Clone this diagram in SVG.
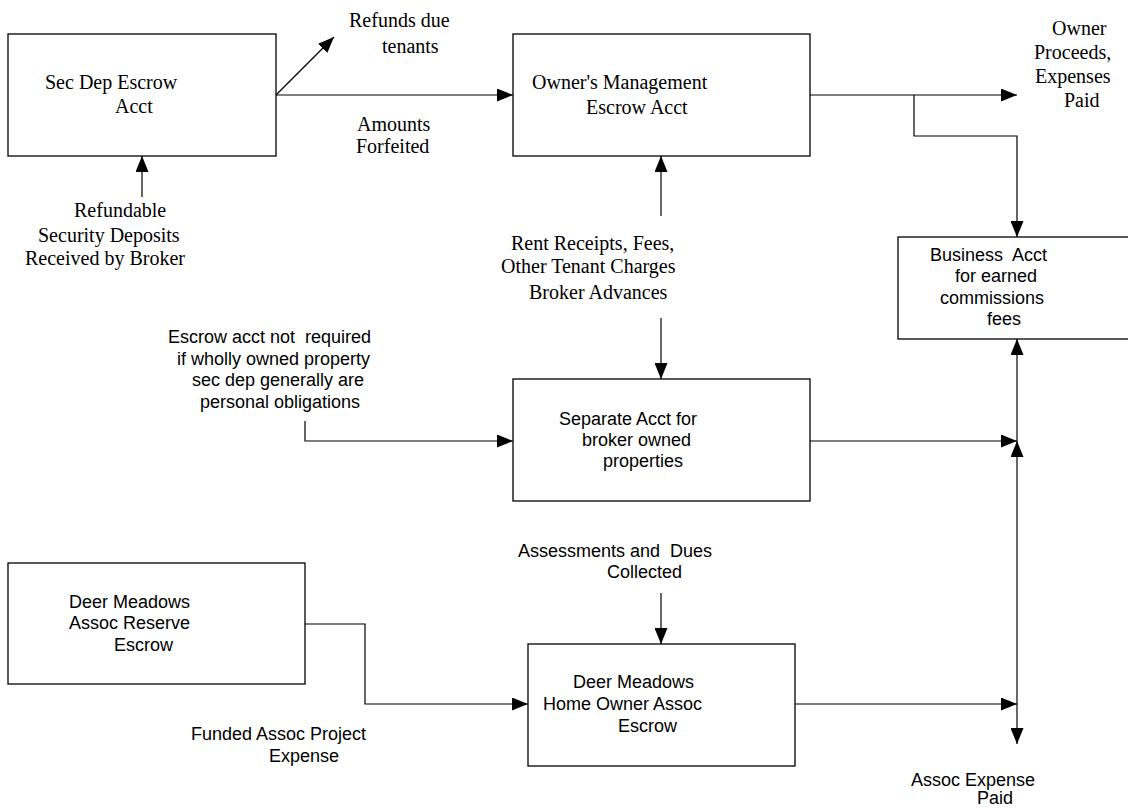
<svg xmlns="http://www.w3.org/2000/svg" width="1128" height="808" viewBox="0 0 1128 808">
<defs>
<marker id="ah" markerUnits="userSpaceOnUse" markerWidth="16" markerHeight="13" refX="16" refY="6.5" orient="auto">
<path d="M0,0 L16,6.5 L0,13 z" fill="#000"/>
</marker>
<style>
.box{fill:#fff;stroke:#000;stroke-width:1.3}
.ln{fill:none;stroke:#000;stroke-width:1.2}
.arr{fill:none;stroke:#000;stroke-width:1.2;marker-end:url(#ah)}
.tr{font-family:"Liberation Serif","Times New Roman",serif;font-size:20px;fill:#000;white-space:pre}
.ar{font-family:"Liberation Sans",Arial,sans-serif;font-size:18px;fill:#000;white-space:pre}
</style>
</defs>
<rect width="1128" height="808" fill="#fff"/>
<g id="connectors">
<line class="arr" x1="276" y1="95" x2="334" y2="37"/>
<line class="arr" x1="276" y1="95" x2="513" y2="95"/>
<line class="arr" x1="142" y1="197" x2="142" y2="156"/>
<line class="arr" x1="661" y1="216" x2="661" y2="156"/>
<line class="arr" x1="661" y1="318" x2="661" y2="379"/>
<line class="arr" x1="810" y1="95" x2="1017" y2="95"/>
<polyline class="arr" points="914,95 914,136 1017,136 1017,237"/>
<polyline class="arr" points="305,421 305,441 513,441"/>
<line class="arr" x1="810" y1="441" x2="1017" y2="441"/>
<line class="arr" x1="1017" y1="441" x2="1017" y2="339"/>
<line class="arr" x1="1017" y1="704" x2="1017" y2="441"/>
<line class="arr" x1="1017" y1="704" x2="1017" y2="744"/>
<line class="arr" x1="795" y1="704" x2="1017" y2="704"/>
<line class="arr" x1="661" y1="593" x2="661" y2="644"/>
<polyline class="arr" points="305,624 365,624 365,704 528,704"/>
</g>
<g id="sec-dep-escrow">
<rect class="box" x="8" y="34" width="268" height="122"/>
<text class="tr" x="45" y="89">Sec Dep Escrow</text>
<text class="tr" x="115" y="113">Acct</text>
</g>
<g id="owners-mgmt-escrow">
<rect class="box" x="513" y="34" width="297" height="122"/>
<text class="tr" x="532" y="89">Owner's Management</text>
<text class="tr" x="586" y="114">Escrow Acct</text>
</g>
<g id="business-acct">
<rect class="box" x="898" y="237" width="235" height="102"/>
<text class="ar" x="930" y="261">Business  Acct</text>
<text class="ar" x="955" y="282">for earned</text>
<text class="ar" x="940" y="304">commissions</text>
<text class="ar" x="987" y="325">fees</text>
</g>
<g id="separate-acct">
<rect class="box" x="513" y="379" width="297" height="122"/>
<text class="ar" x="559" y="425">Separate Acct for</text>
<text class="ar" x="582" y="446">broker owned</text>
<text class="ar" x="603" y="467">properties</text>
</g>
<g id="reserve-escrow">
<rect class="box" x="8" y="563" width="297" height="121"/>
<text class="ar" x="69" y="608">Deer Meadows</text>
<text class="ar" x="69" y="629">Assoc Reserve</text>
<text class="ar" x="114" y="651">Escrow</text>
</g>
<g id="hoa-escrow">
<rect class="box" x="528" y="644" width="267" height="122"/>
<text class="ar" x="573" y="688">Deer Meadows</text>
<text class="ar" x="543" y="710">Home Owner Assoc</text>
<text class="ar" x="618" y="732">Escrow</text>
</g>
<g id="labels">
<text class="tr" x="349" y="27">Refunds due</text>
<text class="tr" x="382" y="53">tenants</text>
<text class="tr" x="357" y="131">Amounts</text>
<text class="tr" x="356" y="153">Forfeited</text>
<text class="tr" x="1052" y="35">Owner</text>
<text class="tr" x="1034" y="59">Proceeds,</text>
<text class="tr" x="1035" y="83">Expenses</text>
<text class="tr" x="1064" y="107">Paid</text>
<text class="tr" x="74" y="217">Refundable</text>
<text class="tr" x="38" y="242">Security Deposits</text>
<text class="tr" x="25" y="265">Received by Broker</text>
<text class="tr" x="511" y="250">Rent Receipts, Fees,</text>
<text class="tr" x="501" y="273">Other Tenant Charges</text>
<text class="tr" x="529" y="299">Broker Advances</text>
<text class="ar" x="168" y="343">Escrow acct not  required</text>
<text class="ar" x="177" y="365">if wholly owned property</text>
<text class="ar" x="192" y="386">sec dep generally are</text>
<text class="ar" x="200" y="408">personal obligations</text>
<text class="ar" x="518" y="557">Assessments and  Dues</text>
<text class="ar" x="607" y="578">Collected</text>
<text class="ar" x="191" y="740">Funded Assoc Project</text>
<text class="ar" x="269" y="762">Expense</text>
<text class="ar" x="911" y="786">Assoc Expense</text>
<text class="ar" x="977" y="804">Paid</text>
</g>
</svg>
